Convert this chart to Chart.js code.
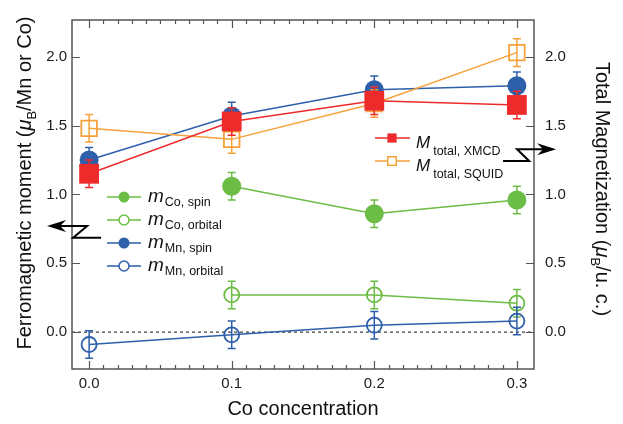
<!DOCTYPE html>
<html><head><meta charset="utf-8">
<script src="https://cdn.jsdelivr.net/npm/chart.js@4/dist/chart.umd.min.js"></script>
<style>html,body{margin:0;padding:0;background:#fff;}#wrap{width:623px;height:424px;position:relative;}</style>
</head><body><div id="wrap"><canvas id="c"></canvas></div>
<script>
// ---- data ----
const concentration = [0.0, 0.1, 0.2, 0.3];
const coConcentration = [0.1, 0.2, 0.3];
const mnSpin = [1.25, 1.57, 1.76, 1.79];
const mnSpinErr = [0.09, 0.1, 0.1, 0.1];
const mnOrbital = [-0.09, -0.02, 0.05, 0.08];
const mnOrbitalErr = [0.1, 0.1, 0.1, 0.1];
const coSpin = [1.06, 0.86, 0.96];
const coSpinErr = [0.1, 0.1, 0.1];
const coOrbital = [0.27, 0.27, 0.21];
const coOrbitalErr = [0.1, 0.1, 0.1];
const mTotalXmcd = [1.15, 1.53, 1.68, 1.65];
const mTotalXmcdErr = [0.1, 0.1, 0.1, 0.1];
const mTotalSquid = [1.48, 1.40, 1.66, 2.03];
const mTotalSquidErr = [0.1, 0.1, 0.1, 0.1];
const xTickValues = [0.0, 0.1, 0.2, 0.3];
const yTickValues = [0.0, 0.5, 1.0, 1.5, 2.0];
const xTitle = 'Co concentration';
const leftTitle = ['Ferromagnetic moment (', 'μ', 'B', '/Mn or Co)'];
const rightTitle = ['Total Magnetization (', 'μ', 'B', '/u. c.)'];
// annotation arrows (data coordinates)
const leftArrow = {tipX: -0.0295, y: 0.77, jointX: -0.0014, lowX1: -0.0112, lowX2: 0.0084, lowY: 0.685};
const rightArrow = {tipX: 0.3275, y: 1.328, jointX: 0.3001, lowX1: 0.3086, lowX2: 0.2903, lowY: 1.243};

const COL = {green: '#6cbd45', blue: '#2d5fab', red: '#ee2b2b', orange: '#f6a13a'};
const FONT = '"Liberation Sans", Arial, Helvetica, sans-serif';

function pts(xs, ys) { return xs.map((x, i) => ({x: x, y: ys[i]})); }

function ds(label, xs, ys, errs, color, style, filled, radius, axis, order, legendSub) {
  return {
    label: label, legendSub: legendSub, data: pts(xs, ys), errors: errs, yAxisID: axis,
    showLine: true, borderColor: color, backgroundColor: color, borderWidth: 1.5,
    pointStyle: style, pointRadius: radius, pointHoverRadius: radius,
    pointBackgroundColor: filled ? color : 'rgba(255,255,255,0)', pointBorderColor: color,
    pointBorderWidth: filled ? 0 : 1.8, order: order, clip: false, filledMarker: filled
  };
}

const datasets = [
  ds('M', concentration, mTotalXmcd, mTotalXmcdErr, COL.red, 'rect', true, 14, 'y2', 1, 'total, XMCD'),
  ds('M', concentration, mTotalSquid, mTotalSquidErr, COL.orange, 'rect', false, 11, 'y2', 2, 'total, SQUID'),
  ds('m', concentration, mnSpin, mnSpinErr, COL.blue, 'circle', true, 9.5, 'y', 3, 'Mn, spin'),
  ds('m', concentration, mnOrbital, mnOrbitalErr, COL.blue, 'circle', false, 7.5, 'y', 4, 'Mn, orbital'),
  ds('m', coConcentration, coSpin, coSpinErr, COL.green, 'circle', true, 9.5, 'y', 5, 'Co, spin'),
  ds('m', coConcentration, coOrbital, coOrbitalErr, COL.green, 'circle', false, 7.5, 'y', 6, 'Co, orbital')
];

function drawMarker(ctx, d, x, y, r) {
  ctx.save();
  ctx.beginPath();
  if (d.pointStyle === 'rect') {
    const h = r * Math.SQRT1_2;
    ctx.rect(x - h, y - h, 2 * h, 2 * h);
  } else {
    ctx.arc(x, y, r, 0, Math.PI * 2);
  }
  if (d.filledMarker) { ctx.fillStyle = d.borderColor; ctx.fill(); }
  else { ctx.fillStyle = '#fff'; ctx.fill(); ctx.lineWidth = 1.5; ctx.strokeStyle = d.borderColor; ctx.stroke(); }
  ctx.restore();
}

function drawParts(ctx, parts, x, y, align) {
  let total = 0;
  parts.forEach(p => { ctx.font = p.font; p.w = ctx.measureText(p.t).width; total += p.w + (p.gap || 0); });
  let cx = align === 'center' ? x - total / 2 : x;
  parts.forEach(p => { ctx.font = p.font; ctx.fillText(p.t, cx + (p.gap || 0), y + (p.dy || 0)); cx += p.w + (p.gap || 0); });
}

const framePlugin = {
  id: 'frame',
  beforeDatasetsDraw(chart) {
    const ctx = chart.ctx, a = chart.chartArea, ys = chart.scales.y;
    const y0 = ys.getPixelForValue(0);
    ctx.save();
    ctx.strokeStyle = '#111'; ctx.lineWidth = 1; ctx.setLineDash([3, 3]);
    ctx.beginPath(); ctx.moveTo(a.left, y0); ctx.lineTo(a.right, y0); ctx.stroke();
    ctx.restore();
  },
  afterDraw(chart) {
    const ctx = chart.ctx, a = chart.chartArea, xs = chart.scales.x, ys = chart.scales.y, y2 = chart.scales.y2;
    ctx.save();
    ctx.strokeStyle = '#555'; ctx.lineWidth = 1.5; ctx.setLineDash([]);
    ctx.strokeRect(a.left, a.top, a.right - a.left, a.bottom - a.top);
    ctx.lineWidth = 1.2;
    ctx.beginPath();
    for (let k = 0; k <= 30; k++) {
      const v = k / 100; const px = Math.round(xs.getPixelForValue(v)) + 0.5;
      const len = (k % 10 === 0) ? 8 : 4;
      ctx.moveTo(px, a.bottom); ctx.lineTo(px, a.bottom - len);
      ctx.moveTo(px, a.top); ctx.lineTo(px, a.top + len);
    }
    yTickValues.forEach(v => {
      const py = Math.round(ys.getPixelForValue(v)) + 0.5;
      ctx.moveTo(a.left, py); ctx.lineTo(a.left + 8, py);
      const py2 = Math.round(y2.getPixelForValue(v)) + 0.5;
      ctx.moveTo(a.right, py2); ctx.lineTo(a.right - 8, py2);
    });
    ctx.stroke();

    // arrows
    ctx.strokeStyle = '#000'; ctx.fillStyle = '#000'; ctx.lineWidth = 2;
    function arrow(A, axis, dir) {
      const sc = chart.scales[axis];
      const tx = xs.getPixelForValue(A.tipX), ty = sc.getPixelForValue(A.y);
      const jx = xs.getPixelForValue(A.jointX);
      const l1 = xs.getPixelForValue(A.lowX1), l2 = xs.getPixelForValue(A.lowX2), ly = sc.getPixelForValue(A.lowY);
      ctx.beginPath();
      ctx.moveTo(tx - dir * 10, ty); ctx.lineTo(jx, ty); ctx.lineTo(l1, ly); ctx.lineTo(l2, ly);
      ctx.stroke();
      ctx.beginPath();
      ctx.moveTo(tx, ty); ctx.lineTo(tx - dir * 19, ty - 6); ctx.lineTo(tx - dir * 13, ty); ctx.lineTo(tx - dir * 19, ty + 6);
      ctx.closePath(); ctx.fill();
    }
    arrow(leftArrow, 'y', -1);
    arrow(rightArrow, 'y2', 1);

    // legends
    ctx.fillStyle = '#111'; ctx.textAlign = 'left'; ctx.textBaseline = 'alphabetic';
    const leftOrder = [4, 5, 2, 3];
    leftOrder.forEach((idx, i) => {
      const d = chart.data.datasets[idx];
      const y = 197 + i * 23;
      ctx.save(); ctx.strokeStyle = d.borderColor; ctx.lineWidth = 1.5;
      ctx.beginPath(); ctx.moveTo(107, y); ctx.lineTo(141, y); ctx.stroke(); ctx.restore();
      drawMarker(ctx, d, 124, y, d.filledMarker ? 5.5 : 5);
      ctx.fillStyle = '#111';
      drawParts(ctx, [
        {t: d.label, font: 'italic 19px ' + FONT},
        {t: d.legendSub, font: '12.5px ' + FONT, dy: 4, gap: 1}
      ], 148, y + 5, 'left');
    });
    [0, 1].forEach((idx, i) => {
      const d = chart.data.datasets[idx];
      const y = 138 + i * 23;
      ctx.save(); ctx.strokeStyle = d.borderColor; ctx.lineWidth = 1.5;
      ctx.beginPath(); ctx.moveTo(375, y); ctx.lineTo(410, y); ctx.stroke(); ctx.restore();
      drawMarker(ctx, d, 392, y, d.filledMarker ? 6.5 : 6);
      ctx.fillStyle = '#111';
      drawParts(ctx, [
        {t: d.label, font: 'italic 17px ' + FONT},
        {t: d.legendSub, font: '12.5px ' + FONT, dy: 7, gap: 3}
      ], 416, y + 10, 'left');
    });

    // axis titles
    ctx.fillStyle = '#111';
    ctx.font = '20px ' + FONT; ctx.textAlign = 'center';
    ctx.fillText(xTitle, (a.left + a.right) / 2, 415);
    ctx.textAlign = 'left';
    const tParts = (arr) => [
      {t: arr[0], font: '20px ' + FONT},
      {t: arr[1], font: 'italic 20px ' + FONT},
      {t: arr[2], font: '13px ' + FONT, dy: 5},
      {t: arr[3], font: '20px ' + FONT}
    ];
    ctx.save(); ctx.translate(31, 183); ctx.rotate(-Math.PI / 2);
    drawParts(ctx, tParts(leftTitle), 0, 0, 'center'); ctx.restore();
    ctx.save(); ctx.translate(596, 189); ctx.rotate(Math.PI / 2);
    drawParts(ctx, tParts(rightTitle), 0, 0, 'center'); ctx.restore();
    ctx.restore();
  }
};

const errorPlugin = {
  id: 'errorBars',
  beforeDatasetDraw(chart, args) {
    const d = chart.data.datasets[args.index];
    if (!d.errors) return;
    const xs = chart.scales.x, sc = chart.scales[d.yAxisID];
    const ctx = chart.ctx;
    ctx.save(); ctx.strokeStyle = d.borderColor; ctx.lineWidth = 1.5;
    ctx.beginPath();
    d.data.forEach((p, i) => {
      const e = d.errors[i];
      const px = xs.getPixelForValue(p.x);
      const a = sc.getPixelForValue(p.y + e), b = sc.getPixelForValue(p.y - e);
      ctx.moveTo(px, a); ctx.lineTo(px, b);
      ctx.moveTo(px - 4, a); ctx.lineTo(px + 4, a);
      ctx.moveTo(px - 4, b); ctx.lineTo(px + 4, b);
    });
    ctx.stroke(); ctx.restore();
  }
};

const yRange = {min: -0.268, max: 2.267};
const tickFont = {family: FONT, size: 15};

new Chart(document.getElementById('c'), {
  type: 'scatter',
  data: {datasets: datasets},
  options: {
    responsive: true, maintainAspectRatio: false, animation: false, events: [],
    layout: {padding: {top: 10, left: 0, right: 0, bottom: 0}},
    plugins: {legend: {display: false}, tooltip: {enabled: false}},
    scales: {
      x: {
        type: 'linear', min: -0.012, max: 0.312,
        grid: {display: false, drawTicks: false}, border: {display: false},
        afterBuildTicks: s => { s.ticks = xTickValues.map(v => ({value: v})); },
        afterFit: s => { s.height = 55; },
        ticks: {font: tickFont, color: '#1a1a1a', padding: 6, callback: v => Number(v).toFixed(1), maxRotation: 0}
      },
      y: {
        type: 'linear', position: 'left', min: yRange.min, max: yRange.max,
        grid: {display: false, drawTicks: false}, border: {display: false},
        afterBuildTicks: s => { s.ticks = yTickValues.map(v => ({value: v})); },
        afterFit: s => { s.width = 72; },
        ticks: {font: tickFont, color: '#1a1a1a', padding: 5, callback: v => Number(v).toFixed(1)}
      },
      y2: {
        type: 'linear', position: 'right', min: yRange.min, max: yRange.max,
        grid: {display: false, drawTicks: false}, border: {display: false},
        afterBuildTicks: s => { s.ticks = yTickValues.map(v => ({value: v})); },
        afterFit: s => { s.width = 89; },
        ticks: {font: tickFont, color: '#1a1a1a', padding: 11, callback: v => Number(v).toFixed(1)}
      }
    }
  },
  plugins: [framePlugin, errorPlugin]
});
</script>
</body></html>
